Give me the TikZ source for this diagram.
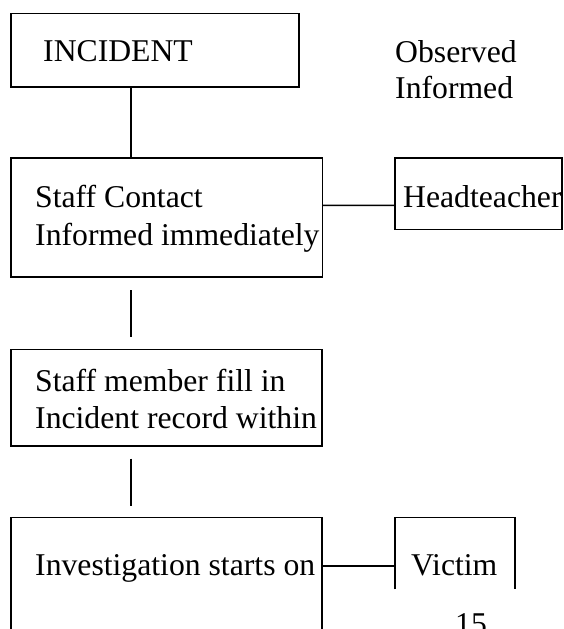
\documentclass[tikz,border=0pt]{standalone}
\usepackage{fontspec}
\setmainfont{Liberation Serif}
\begin{document}
\begin{tikzpicture}[x=1pt,y=-1pt,
  box/.style={draw, line width=1.6pt, inner sep=0pt, outer sep=0pt},
  openbox/.style={draw=none, inner sep=0pt, outer sep=0pt},
  conn/.style={line width=1.6pt},
  txt/.style={inner sep=0pt, anchor=base west, font=\fontsize{31.7pt}{37pt}\selectfont}]
\useasboundingbox (0,0) rectangle (563,629);
\clip (0,0) rectangle (563,629);
% boxes
\node[box, minimum width=288pt, minimum height=73.7pt] (inc) at (155,50.2) {};
\node[box, minimum width=311.4pt, minimum height=119pt] (staff) at (166.7,217.5) {};
\node[box, minimum width=167pt, minimum height=71.3pt] (head) at (478.5,193.7) {};
\node[box, minimum width=311pt, minimum height=96.4pt] (member) at (166.5,397.5) {};
\node[openbox, minimum width=311pt, minimum height=143pt] (invest) at (166.5,588.8) {};
\node[openbox, minimum width=120pt, minimum height=72pt] (victim) at (455,553.3) {};
\draw[conn] (invest.south west) -- (invest.north west) -- (invest.north east) -- (invest.south east);
\draw[conn] (victim.south west) -- (victim.north west) -- (victim.north east) -- (victim.south east);
% connectors
\draw[conn] ([xshift=119.7pt]inc.south west) -- ([xshift=119.7pt]staff.north west);
\draw[conn] ([yshift=-47.3pt]staff.north east) -- ([yshift=-47.3pt]head.north west);
\draw[conn] ([xshift=119.7pt,yshift=-13pt]staff.south west) -- ([xshift=119.7pt,yshift=12pt]member.north west);
\draw[conn] ([xshift=119.7pt,yshift=-13pt]member.south west) -- ([xshift=119.7pt,yshift=11.6pt]invest.north west);
\draw[conn] ([yshift=-48.4pt]invest.north east) -- ([yshift=-48.4pt]victim.north west);
% texts
\node[txt] (tinc) at (43,61.3) {INCIDENT};
\node[txt] (tobs) at (395,62) {Observed};
\node[txt] (tinf) at (395,98.3) {Informed};
\node[txt] (tst1) at (35,207.3) {Staff Contact};
\node[txt] (tst2) at (35,245) {Informed immediately};
\node[txt] (thead) at (403,207.3) {Headteacher};
\node[txt] (tmem1) at (35,391.7) {Staff member fill in};
\node[txt] (tmem2) at (35,428.3) {Incident record within};
\node[txt] (tinv) at (35,575) {Investigation starts on};
\node[txt] (tvic) at (411,575) {Victim};
\node[txt] (tpage) at (455,634.5) {15};
\end{tikzpicture}
\end{document}
